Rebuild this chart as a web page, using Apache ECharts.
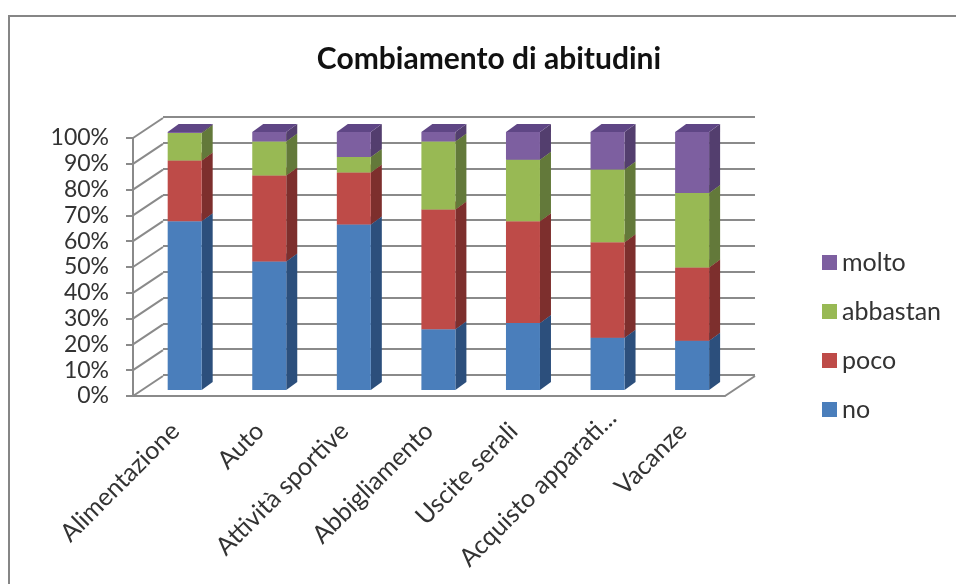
<!DOCTYPE html>
<html>
<head>
<meta charset="utf-8">
<style>html,body{margin:0;padding:0;background:#fff}#chart{width:956px;height:584px}</style>
<script src="https://cdn.jsdelivr.net/npm/echarts@6/dist/echarts.min.js"></script>
</head>
<body>
<div id="chart"></div>
<script>
// Share of answers per activity, stacked from bottom to top.
const categories = ['Alimentazione', 'Auto', 'Attività sportive', 'Abbigliamento', 'Uscite serali', 'Acquisto apparati...', 'Vacanze'];
const no = [65.4, 49.8, 64.1, 23.5, 26.0, 20.3, 19.1];
const poco = [23.6, 33.3, 20.2, 46.5, 39.4, 37.0, 28.4];
const abbastan = [10.6, 13.2, 6.0, 26.3, 23.8, 28.2, 28.9];
const molto = [0.4, 3.7, 9.7, 3.7, 10.8, 14.5, 23.6];
const percentTicks = [0, 10, 20, 30, 40, 50, 60, 70, 80, 90, 100];
const shortenedLabel = 'Acquisto apparati...';

const seriesDefs = [
  { name: 'no', values: no, front: '#4a7ebb', side: '#2c4f7c', top: '#3d6aa0' },
  { name: 'poco', values: poco, front: '#be4b48', side: '#7d2f2d', top: '#9a3d3a' },
  { name: 'abbastan', values: abbastan, front: '#98b954', side: '#63793a', top: '#7d9845' },
  { name: 'molto', values: molto, front: '#7d5fa0', side: '#533e6e', top: '#5f4685' }
];

// Extrusion of a bar, and of the floor and side wall, in pixels.
const barDepth = [11, -8];
const wallDepth = [30, -20];
const barShare = 0.402;
const axisGray = '#8a8a8a';
const labelFont = 'Lato, Carlito, sans-serif';

function barRenderer(def) {
  return function (params, api) {
    const cat = api.value(0);
    const bottom = api.coord([cat, api.value(1)]);
    const top = api.coord([cat, api.value(2)]);
    const w = api.size([1, 0])[0] * barShare;
    const l = bottom[0] - w / 2, r = bottom[0] + w / 2;
    const [dx, dy] = barDepth;
    const face = (pts, fill) => ({ type: 'polygon', shape: { points: pts }, style: { fill: fill, stroke: null } });
    return {
      type: 'group',
      children: [
        face([[r, bottom[1]], [r + dx, bottom[1] + dy], [r + dx, top[1] + dy], [r, top[1]]], def.side),
        face([[l, top[1]], [l + dx, top[1] + dy], [r + dx, top[1] + dy], [r, top[1]]], def.top),
        face([[l, bottom[1]], [r, bottom[1]], [r, top[1]], [l, top[1]]], def.front)
      ]
    };
  };
}

// Running totals give each segment its start and end value.
const running = categories.map(() => 0);
const barSeries = seriesDefs.map(def => {
  const data = def.values.map((v, i) => {
    const start = running[i];
    running[i] += v;
    return [i, start, running[i]];
  });
  return {
    name: def.name,
    type: 'custom',
    xAxisIndex: 2,
    yAxisIndex: 2,
    clip: false,
    z: 5,
    itemStyle: { color: def.front },
    encode: { x: 0, y: [1, 2] },
    data: data,
    renderItem: barRenderer(def)
  };
});

// Diagonals joining the front axes to the back wall.
const wallSeries = {
  type: 'custom',
  xAxisIndex: 0,
  yAxisIndex: 0,
  clip: false,
  silent: true,
  z: 3,
  encode: { x: 0, y: 1 },
  data: percentTicks.map(t => [0, t]),
  renderItem: function (params, api) {
    const y = api.coord([0, api.value(1)])[1];
    const cs = params.coordSys;
    const seg = (x) => ({
      type: 'line',
      shape: { x1: x, y1: y, x2: x + wallDepth[0], y2: y + wallDepth[1] },
      style: { stroke: axisGray, lineWidth: 2 }
    });
    const children = [seg(cs.x)];
    if (api.value(1) === 0) children.push(seg(cs.x + cs.width));
    return { type: 'group', children: children };
  }
};

const categoryLabel = {
  interval: 0,
  rotate: 45,
  margin: 31,
  fontFamily: labelFont,
  fontSize: 25,
  color: '#333'
};
const bareCategoryAxis = { type: 'category', data: categories, axisLine: { show: false }, axisTick: { show: false } };

const chart = echarts.init(document.getElementById('chart'), null, { renderer: 'canvas' });
chart.setOption({
  animation: false,
  backgroundColor: '#fff',
  title: {
    text: 'Combiamento di abitudini',
    left: 484,
    top: 39,
    textAlign: 'center',
    textStyle: { fontFamily: labelFont, fontWeight: 'bold', fontSize: 30, color: '#111' }
  },
  legend: {
    orient: 'vertical',
    left: 822,
    top: 250,
    padding: 0,
    itemWidth: 15,
    itemHeight: 15,
    itemGap: 24,
    icon: 'rect',
    data: ['molto', 'abbastan', 'poco', 'no'],
    textStyle: { fontFamily: labelFont, fontSize: 25, color: '#333' }
  },
  graphic: [{
    type: 'rect',
    shape: { x: 9, y: 16, width: 1200, height: 1200 },
    style: { fill: null, stroke: '#868686', lineWidth: 2 },
    silent: true,
    z: 0
  }],
  grid: [
    { left: 133, top: 138, width: 592, height: 258 },
    { left: 163, top: 117, width: 592, height: 258 },
    { left: 142.4, top: 132, width: 592, height: 258 },
    // Carries the shortened label alone, which sits further along its slant.
    { left: 147, top: 138, width: 592, height: 245 }
  ],
  xAxis: [
    {
      gridIndex: 0,
      type: 'category',
      data: categories,
      axisLine: { lineStyle: { color: axisGray, width: 2 } },
      axisTick: { length: 8, lineStyle: { color: axisGray, width: 2 } },
      axisLabel: Object.assign({}, categoryLabel, {
        formatter: v => (v === shortenedLabel ? '' : v)
      })
    },
    Object.assign({ gridIndex: 1, axisLabel: { show: false } }, bareCategoryAxis),
    Object.assign({ gridIndex: 2, axisLabel: { show: false } }, bareCategoryAxis),
    Object.assign({
      gridIndex: 3,
      axisLabel: Object.assign({}, categoryLabel, {
        formatter: v => (v === shortenedLabel ? v : '')
      })
    }, bareCategoryAxis)
  ],
  yAxis: [
    {
      gridIndex: 0,
      type: 'value',
      min: 0,
      max: 100,
      interval: 10,
      axisLine: { show: true, lineStyle: { color: axisGray, width: 2 } },
      axisTick: { show: true, length: 7, lineStyle: { color: axisGray, width: 2 } },
      splitLine: { show: false },
      axisLabel: {
        margin: 24,
        padding: [11, 0, 0, 0],
        formatter: '{value}%',
        fontFamily: labelFont,
        fontSize: 23,
        color: '#333'
      }
    },
    {
      gridIndex: 1,
      type: 'value',
      min: 0,
      max: 100,
      interval: 10,
      axisLine: { show: false },
      axisTick: { show: false },
      axisLabel: { show: false },
      splitLine: { show: true, lineStyle: { color: axisGray, width: 2 } }
    },
    {
      gridIndex: 2,
      type: 'value',
      min: 0,
      max: 100,
      axisLine: { show: false },
      axisTick: { show: false },
      axisLabel: { show: false },
      splitLine: { show: false }
    },
    {
      gridIndex: 3,
      type: 'value',
      min: 0,
      max: 100,
      axisLine: { show: false },
      axisTick: { show: false },
      axisLabel: { show: false },
      splitLine: { show: false }
    }
  ],
  series: [wallSeries].concat(barSeries)
});
</script>
</body>
</html>
